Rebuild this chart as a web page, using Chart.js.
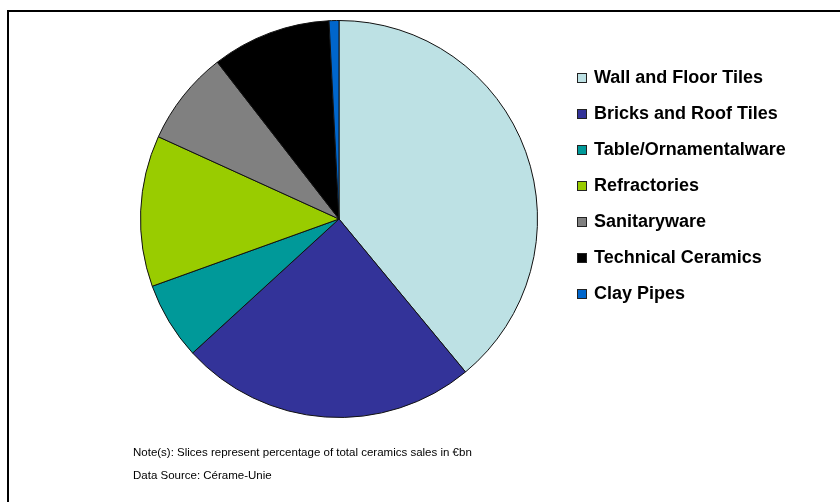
<!DOCTYPE html>
<html>
<head>
<meta charset="utf-8">
<script src="https://cdn.jsdelivr.net/npm/chart.js@4/dist/chart.umd.min.js"></script>
<style>
  body { margin: 0; background: #fff; overflow: hidden; }
  #wrap { position: relative; width: 840px; height: 502px; }
  #frame { position: absolute; left: 7px; top: 10px; width: 900px; height: 600px;
           border-top: 2px solid #000; border-left: 2px solid #000; }
  #mycanvas { position: absolute; left: 0; top: 0; }
</style>
</head>
<body>
<div id="wrap">
  <div id="frame"></div>
  <canvas id="mycanvas" width="840" height="502"></canvas>
</div>
<script>
// share of total ceramics sales, clockwise from 12 o'clock
var categories = ["Wall and Floor Tiles", "Bricks and Roof Tiles", "Table/Ornamentalware",
                  "Refractories", "Sanitaryware", "Technical Ceramics", "Clay Pipes"];
var shares = [39.0, 24.2, 6.3, 12.3, 7.7, 9.7, 0.8];
var colours = ["#bde1e4", "#333399", "#009999", "#99cc00", "#808080", "#000000", "#0066cc"];
var notes = ["Note(s): Slices represent percentage of total ceramics sales in \u20acbn",
             "Data Source: C\u00e9rame-Unie"];

// legend + footnotes drawn straight onto the canvas
var sideLegend = {
  id: "sideLegend",
  afterDraw: function (chart) {
    var ctx = chart.ctx;
    ctx.save();
    ctx.textBaseline = "middle";
    ctx.font = "bold 18px 'Liberation Sans', Arial, sans-serif";
    for (var i = 0; i < categories.length; i++) {
      var y = 78 + i * 36;
      ctx.fillStyle = colours[i];
      ctx.fillRect(577, y - 5, 10, 10);
      ctx.strokeStyle = "#222";
      ctx.lineWidth = 1;
      ctx.strokeRect(577.5, y - 4.5, 9, 9);
      ctx.fillStyle = "#000";
      ctx.fillText(categories[i], 594, y);
    }
    ctx.font = "11.5px 'Liberation Sans', Arial, sans-serif";
    ctx.fillStyle = "#000";
    ctx.fillText(notes[0], 133, 453);
    ctx.fillText(notes[1], 133, 476);
    ctx.restore();
  }
};

var chart = new Chart(document.getElementById("mycanvas"), {
  type: "pie",
  data: {
    labels: categories,
    datasets: [{
      data: shares,
      backgroundColor: colours,
      borderColor: "#111",
      borderWidth: 1
    }]
  },
  options: {
    responsive: false,
    animation: false,
    layout: { padding: { left: 140, top: 20, right: 302, bottom: 84 } },
    plugins: {
      legend: { display: false },
      tooltip: { enabled: false }
    }
  },
  plugins: [sideLegend]
});
</script>
</body>
</html>
